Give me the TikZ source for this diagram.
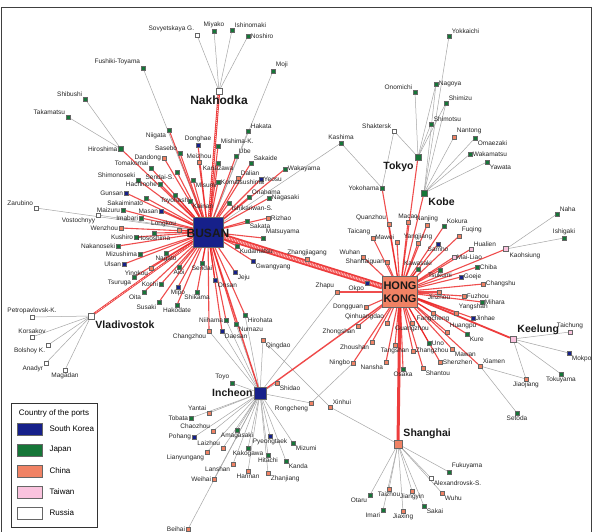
\documentclass[tikz,border=0pt]{standalone}
\usepackage{fontspec}
\setmainfont{Liberation Sans}
\pgfdeclarelayer{back}
\pgfdeclarelayer{bg}
\pgfsetlayers{back,bg,main}
\definecolor{kr}{RGB}{22,32,138}
\definecolor{jp}{RGB}{22,118,56}
\definecolor{cn}{RGB}{240,130,100}
\definecolor{tw}{RGB}{250,195,222}
\definecolor{ru}{RGB}{255,255,255}
\definecolor{edgered}{RGB}{235,28,28}
\tikzset{
  pnode/.style={rectangle, draw=black!60, line width=0.3pt, minimum size=3.6pt, inner sep=0pt},
  lbl/.style={font=\fontsize{6.5}{7}\selectfont, text=black!85, inner sep=0.6pt},
  hubl/.style={font=\bfseries\fontsize{10.5}{11}\selectfont, text=black!90, inner sep=1pt},
  redge/.style={draw=edgered, line width=1.1pt, opacity=0.78},
  gedge/.style={draw=black!35, line width=0.5pt},
  label distance=0.2pt
}
\newcommand\portnode[6]{\node[pnode,fill=#4,label={[lbl]#5:#6}] (#1) at (#2,#3) {};}
\newcommand\hubnode[7]{\node[pnode,fill=#4,minimum size=#7,label={[hubl]#5:#6}] (#1) at (#2,#3) {};}
\begin{document}
\begin{tikzpicture}[x=1pt,y=-1pt]
\useasboundingbox (0,0) rectangle (594,532);
\begin{pgfonlayer}{back}
\fill[white] (0,0) rectangle (594,532);
\draw[black!75, line width=0.9pt] (1,7) rectangle (591,540);
\end{pgfonlayer}

% ---------- hubs ----------
\node[pnode,fill=kr,minimum size=30pt] (busan) at (208,232) {};
\node[font=\bfseries\fontsize{12}{12}\selectfont, text=black!90] at (208,233) {BUSAN};
\node[pnode,fill=cn,minimum width=35pt,minimum height=31pt] (hk) at (400,292) {};
\node[font=\bfseries\fontsize{11}{13}\selectfont, text=black!90, align=center] at (400,292) {HONG\\KONG};
\node[pnode,fill=ru,minimum size=6pt,label={[hubl,font=\bfseries\fontsize{12}{12}\selectfont]south:Nakhodka}] (nkd) at (219,91) {};
\hubnode{vla}{91}{316}{ru}{south east}{Vladivostok}{6pt}
\hubnode{inc}{260}{393}{kr}{west}{Incheon}{12pt}
\hubnode{sgh}{398}{444}{cn}{north east}{Shanghai}{8pt}
\hubnode{kee}{513}{339}{tw}{north east}{Keelung}{6pt}
\hubnode{tky}{418}{157}{jp}{south west}{Tokyo}{6pt}
\hubnode{kob}{424}{193}{jp}{south east}{Kobe}{6pt}
\node[pnode,fill=tw,minimum size=5pt,label={[lbl]south east:Kaohsiung}] (kao) at (506,249) {};
\node[pnode,fill=jp,minimum size=5pt,label={[lbl]west:Hiroshima}] (hir) at (121,149) {};

% ---------- Nakhodka / north ----------
\portnode{sov}{197}{35}{ru}{north west}{Sovyetskaya G.}
\portnode{miy}{214}{31}{jp}{north}{Miyako}
\portnode{ish}{232}{30}{jp}{north east}{Ishinomaki}
\portnode{nos}{248}{36}{jp}{east}{Noshiro}
\portnode{fus}{143}{68}{jp}{north west}{Fushiki-Toyama}
\portnode{moj}{273}{71}{jp}{north east}{Moji}
\portnode{shi}{85}{99}{jp}{north west}{Shibushi}
\portnode{tak}{68}{117}{jp}{north west}{Takamatsu}
\portnode{nii}{169}{130}{jp}{south west}{Niigata}
\portnode{hak}{248}{131}{jp}{north east}{Hakata}
\portnode{don}{198}{145}{kr}{north}{Donghae}
\portnode{mis}{218}{146}{jp}{north east}{Mishima-K.}
\portnode{sas}{180}{153}{jp}{north west}{Sasebo}
\portnode{ube}{236}{156}{jp}{north east}{Ube}
\portnode{dan}{164}{158}{cn}{west}{Dandong}
\portnode{mei}{199}{162}{cn}{north}{Meizhou}
\portnode{sak}{251}{163}{jp}{north east}{Sakaide}
\portnode{tom}{151}{168}{jp}{north west}{Tomakomai}
\portnode{kan}{218}{163}{jp}{south}{Kanazawa}
\portnode{dal}{238}{178}{cn}{north east}{Dalian}
\portnode{wak}{285}{169}{jp}{east}{Wakayama}
\portnode{yeo}{261}{179}{kr}{east}{Yeosu}

% ---------- Busan west ----------
\portnode{sms}{138}{180}{jp}{north west}{Shimonoseki}
\portnode{sen}{177}{172}{jp}{south west}{Sendai-S.}
\portnode{gun}{126}{193}{kr}{west}{Gunsan}
\portnode{hac}{160}{184}{jp}{west}{Hachinohe}
\portnode{sai}{146}{198}{jp}{south west}{Sakaiminato}
\portnode{toy}{175}{195}{jp}{south}{Toyohashi}
\portnode{mai}{123}{210}{jp}{west}{Maizuru}
\portnode{msn}{161}{211}{kr}{west}{Masan}
\portnode{ima}{141}{218}{jp}{west}{Imabari}
\portnode{zar}{36}{208}{ru}{north west}{Zarubino}
\portnode{vos}{98}{215}{ru}{south west}{Vostochnyy}
\portnode{wen}{121}{228}{cn}{west}{Wenzhou}
\portnode{lon}{179}{230}{cn}{north west}{Longkou}
\portnode{kus}{136}{237}{jp}{west}{Kushiro}
\portnode{hos}{154}{233}{jp}{south}{Hososhima}
\portnode{nak}{118}{246}{jp}{west}{Nakanoseki}
\portnode{miz}{140}{254}{jp}{west}{Mizushima}
\portnode{nag}{166}{253}{jp}{south}{Nagato}
\portnode{uls}{124}{264}{kr}{west}{Ulsan}
\portnode{yin}{151}{268}{cn}{south west}{Yingkou}
\portnode{aio}{179}{267}{jp}{south}{Aioi}
\portnode{tsu}{134}{277}{jp}{south west}{Tsuruga}
\portnode{koc}{161}{284}{jp}{west}{Kochi}
\portnode{mip}{178}{287}{kr}{south}{Mipo}
\portnode{oit}{144}{292}{jp}{south west}{Oita}
\portnode{shk}{197}{292}{jp}{south}{Shikama}
\portnode{sus}{159}{302}{jp}{south west}{Susaki}
\portnode{hkd}{177}{305}{jp}{south}{Hakodate}

% ---------- Russia west ----------
\portnode{pet}{32}{317}{ru}{north}{Petropavlovsk-K.}
\portnode{kor}{32}{337}{ru}{north}{Korsakov}
\portnode{bol}{48}{345}{ru}{south west}{Bolshoy K.}
\portnode{ana}{46}{363}{ru}{south west}{Anadyr}
\portnode{mag}{65}{370}{ru}{south}{Magadan}

% ---------- Busan east ----------
\portnode{msm}{193}{180}{jp}{south east}{Misumi}
\portnode{kom}{218}{182}{jp}{east}{Komatsushima}
\portnode{ona}{249}{197}{jp}{north east}{Onahama}
\portnode{nas}{269}{198}{jp}{east}{Nagasaki}
\portnode{isk}{229}{203}{jp}{south east}{Ishikariwan-S.}
\portnode{kai}{190}{201}{jp}{south east}{Kainan}
\portnode{riz}{268}{218}{cn}{east}{Rizhao}
\portnode{skt}{247}{221}{jp}{south east}{Sakata}
\portnode{mat}{263}{238}{jp}{north east}{Matsuyama}
\portnode{kud}{237}{246}{jp}{south east}{Kudamatsu}
\portnode{gwa}{253}{261}{kr}{south east}{Gwangyang}
\portnode{jej}{235}{272}{kr}{south east}{Jeju}
\portnode{sed}{202}{263}{jp}{south}{Sendai}
\portnode{ons}{215}{280}{kr}{south east}{Onsan}

% ---------- Incheon ----------
\portnode{nih}{226}{320}{jp}{west}{Niihama}
\portnode{hih}{245}{315}{jp}{south east}{Hirohata}
\portnode{num}{236}{324}{jp}{south east}{Numazu}
\portnode{dae}{222}{331}{kr}{south east}{Daesan}
\portnode{chz}{209}{331}{cn}{south west}{Changzhou}
\portnode{qin}{263}{340}{cn}{south east}{Qingdao}
\portnode{toyo}{232}{383}{jp}{north west}{Toyo}
\portnode{shd}{277}{383}{cn}{south east}{Shidao}
\portnode{ron}{311}{403}{cn}{south west}{Rongcheng}
\portnode{xin}{330}{407}{cn}{north east}{Xinhui}
\portnode{yan}{209}{413}{cn}{north west}{Yantai}
\portnode{tob}{191}{418}{jp}{west}{Tobata}
\portnode{cha}{213}{431}{cn}{north west}{Chaozhou}
\portnode{ama}{237}{430}{jp}{south}{Amagasaki}
\portnode{poh}{194}{437}{kr}{west}{Pohang}
\portnode{lai}{223}{448}{cn}{north west}{Laizhou}
\portnode{pye}{270}{436}{kr}{south}{Pyeongtaek}
\portnode{izu}{293}{443}{jp}{south east}{Mizumi}
\portnode{kak}{248}{448}{jp}{south}{Kakogawa}
\portnode{lia}{207}{452}{cn}{south west}{Lianyungang}
\portnode{hit}{268}{455}{jp}{south}{Hitachi}
\portnode{kda}{286}{461}{jp}{south east}{Kanda}
\portnode{lan}{233}{464}{cn}{south west}{Lanshan}
\portnode{han}{248}{471}{cn}{south}{Hannan}
\portnode{zha}{268}{473}{cn}{south east}{Zhanjiang}
\portnode{wei}{214}{479}{cn}{west}{Weihai}
\portnode{bei}{188}{529}{cn}{west}{Beihai}

% ---------- top right ----------
\portnode{yok}{449}{36}{jp}{north east}{Yokkaichi}
\portnode{ngy}{436}{84}{jp}{east}{Nagoya}
\portnode{ono}{415}{92}{jp}{north west}{Onomichi}
\portnode{shm}{446}{103}{jp}{north east}{Shimizu}
\portnode{sht}{431}{124}{jp}{north east}{Shimotsu}
\portnode{skk}{394}{131}{ru}{north west}{Shaktersk}
\portnode{kas}{341}{143}{jp}{north}{Kashima}
\portnode{nat}{454}{137}{cn}{north east}{Nantong}
\portnode{oma}{475}{138}{jp}{south east}{Omaezaki}
\portnode{wkm}{470}{154}{jp}{east}{Wakamatsu}
\portnode{yaw}{487}{162}{jp}{south east}{Yawata}
\portnode{ykh}{382}{188}{jp}{west}{Yokohama}
\portnode{nah}{557}{214}{jp}{north east}{Naha}
\portnode{isg}{564}{238}{jp}{north}{Ishigaki}

% ---------- Hong Kong north ----------
\portnode{qua}{389}{224}{cn}{north west}{Quanzhou}
\portnode{mac}{408}{222}{cn}{north}{Macao}
\portnode{nnj}{427}{225}{cn}{north}{Nanjing}
\portnode{kok}{444}{226}{jp}{north east}{Kokura}
\portnode{fuq}{459}{236}{cn}{north east}{Fuqing}
\portnode{tcg}{373}{238}{cn}{north west}{Taicang}
\portnode{mwe}{397}{242}{cn}{north west}{Mawei}
\portnode{yjg}{418}{243}{cn}{north}{Yangjiang}
\portnode{sam}{438}{244}{kr}{south}{Samho}
\portnode{hul}{471}{249}{tw}{north east}{Hualien}
\portnode{mal}{454}{257}{tw}{east}{Mai-Liao}
\portnode{zjg}{307}{259}{cn}{north}{Zhangjiagang}
\portnode{wuh}{363}{257}{cn}{north west}{Wuhan}
\portnode{shg}{387}{262}{cn}{west}{Shanhaiguan}
\portnode{kaw}{418}{269}{jp}{north}{Kawasaki}
\portnode{tsk}{440}{270}{jp}{south}{Tsukumi}
\portnode{chi}{477}{267}{jp}{east}{Chiba}
\portnode{goe}{461}{277}{kr}{east}{Goeje}
\portnode{chs}{483}{284}{cn}{east}{Changshu}
\portnode{jnz}{439}{292}{cn}{south}{Jinzhou}
\portnode{fuz}{464}{296}{cn}{east}{Fuzhou}
\portnode{mih}{482}{302}{jp}{east}{Mihara}
\portnode{ysh}{456}{313}{cn}{north east}{Yangshan}
\portnode{jnh}{473}{318}{kr}{east}{Jinhae}
\portnode{fan}{433}{313}{cn}{south}{Fangcheng}
\portnode{dgg}{366}{307}{cn}{west}{Dongguan}
\portnode{qhd}{387}{323}{cn}{north west}{Qinhuangdao}
\portnode{zhp}{337}{292}{cn}{north west}{Zhapu}
\portnode{okp}{367}{283}{kr}{south west}{Okpo}

% ---------- Hong Kong south ----------
\portnode{zgs}{358}{326}{cn}{south west}{Zhongshan}
\portnode{zhs}{372}{342}{cn}{south west}{Zhoushan}
\portnode{tan}{395}{345}{cn}{south}{Tangshan}
\portnode{nin}{353}{363}{cn}{west}{Ningbo}
\portnode{nan}{386}{362}{cn}{south west}{Nansha}
\portnode{osa}{403}{369}{jp}{south}{Osaka}
\portnode{sha}{423}{368}{cn}{south east}{Shantou}
\portnode{shz}{440}{362}{cn}{east}{Shenzhen}
\portnode{zhz}{413}{351}{cn}{east}{Zhangzhou}
\portnode{maw}{452}{349}{cn}{south east}{Mawan}
\portnode{uno}{429}{343}{jp}{east}{Uno}
\portnode{gua}{412}{323}{cn}{south}{Guangzhou}
\portnode{hua}{447}{332}{cn}{north east}{Huangpu}
\portnode{kur}{467}{334}{jp}{south east}{Kure}
\portnode{xia}{480}{366}{cn}{north east}{Xiamen}
\portnode{tai}{570}{332}{tw}{north}{Taichung}
\portnode{mok}{569}{353}{kr}{south east}{Mokpo}
\portnode{tok}{561}{374}{jp}{south}{Tokuyama}
\portnode{jia}{526}{379}{cn}{south}{Jiaojiang}
\portnode{set}{517}{413}{jp}{south}{Setoda}

% ---------- Shanghai ----------
\portnode{fuk}{449}{472}{jp}{north east}{Fukuyama}
\portnode{ale}{431}{478}{ru}{south east}{Alexandrovsk-S.}
\portnode{wuu}{442}{493}{cn}{south east}{Wuhu}
\portnode{jgy}{412}{491}{cn}{south}{Jiangyin}
\portnode{tzh}{389}{489}{cn}{south}{Taizhou}
\portnode{ota}{370}{495}{jp}{south west}{Otaru}
\portnode{ska}{424}{506}{jp}{south east}{Sakai}
\portnode{jxg}{403}{511}{cn}{south}{Jiaxing}
\portnode{imr}{383}{510}{jp}{south west}{Imari}

% ---------- legend ----------
\node[draw=black!80, fill=white, line width=0.8pt, minimum width=86pt, minimum height=124pt, anchor=north west] (legend) at (11,403) {};
\node[font=\fontsize{8}{9}\selectfont] (legtitle) at (54,413) {Country of the ports};
\foreach \c/\t [count=\i] in {kr/South Korea,jp/Japan,cn/China,tw/Taiwan,ru/Russia}{
  \node[draw=black!60, fill=\c, minimum width=25pt, minimum height=12.5pt, inner sep=0pt] (sw\i) at (29.5,408+21*\i) {};
  \node[font=\fontsize{8}{9}\selectfont, anchor=west] (lt\i) at (46,408+21*\i) {\t};
}

% ---------- edges ----------
\begin{pgfonlayer}{bg}
\foreach \n in {sov,miy,ish,nos} \draw[gedge] (nkd) -- (\n);
\foreach \n in {pet,kor,bol,ana,mag} \draw[gedge] (vla) -- (\n);
\foreach \n in {shi,tak} \draw[gedge] (hir) -- (\n);
\foreach \n in {fus,moj,hak,zar,vos,kas} \draw[gedge] (busan) -- (\n);
\foreach \n in {nih,hih,num,dae,chz,qin,toyo,shd,ron,yan,tob,cha,ama,poh,lai,pye,izu,kak,lia,hit,kda,lan,han,zha,wei,bei,zhp}
  \draw[gedge] (inc) -- (\n);
\foreach \n in {ono,ngy,shm,sht,skk} \draw[gedge] (tky) -- (\n);
\foreach \n in {yok,nat,oma,wkm,yaw,ngy,shm} \draw[gedge] (kob) -- (\n);
\foreach \n in {kas,skk} \draw[gedge] (ykh) -- (\n);
\foreach \n in {nah,isg} \draw[gedge] (kao) -- (\n);
\foreach \n in {tai,mok,tok,jia} \draw[gedge] (kee) -- (\n);
\foreach \n in {set,jia} \draw[gedge] (xia) -- (\n);
\foreach \n in {fuk,ale,wuu,jgy,tzh,ota,ska,jxg,imr,xin} \draw[gedge] (sgh) -- (\n);
\draw[gedge] (xin) -- (qin);
\draw[gedge] (ron) -- (nin);
\foreach \n in {nii,don,mis,sas,ube,dan,mei,sak,tom,kan,dal,wak,yeo,sms,sen,gun,hac,sai,toy,mai,msn,ima,wen,lon,kus,hos,nak,miz,nag,uls,yin,aio,tsu,koc,mip,oit,shk,sus,hkd,msm,kom,ona,nas,isk,kai,riz,skt,mat,kud,gwa,jej,sed,ons,nih,hih,num,dae,chz,hir}
  \draw[redge] (busan) -- (\n);
\foreach \n in {qua,mac,nnj,kok,fuq,tcg,mwe,yjg,sam,hul,mal,wuh,shg,kaw,tsk,chi,goe,chs,jnz,fuz,mih,ysh,jnh,fan,dgg,qhd,zgs,zhp,okp,zhs,tan,nan,osa,sha,shz,zhz,maw,uno,gua,hua,kur,xia,tky,kob,ykh,kao,nin}
  \draw[redge] (hk) -- (\n);
\draw[edgered, line width=6pt, opacity=0.85] (busan) -- (hk);
\draw[red!25, line width=2.5pt, dash pattern=on 0.8pt off 0.8pt] (busan) -- (hk);
\draw[edgered, line width=2.4pt, opacity=0.85] (busan) -- (nkd);
\draw[white, line width=0.5pt, dash pattern=on 1pt off 1pt] (busan) -- (nkd);
\draw[edgered, line width=2.2pt, opacity=0.85] (busan) -- (vla);
\draw[white, line width=0.5pt, dash pattern=on 1pt off 1pt] (busan) -- (vla);
\draw[edgered, line width=3pt, opacity=0.85] (hk) -- (sgh);
\draw[edgered, line width=1.8pt, opacity=0.85] (hk) -- (kee);
\draw[edgered, line width=1.4pt, opacity=0.8] (hk) -- (inc);
\draw[edgered, line width=1.4pt, opacity=0.8] (busan) -- (inc);
\end{pgfonlayer}
\end{tikzpicture}
\end{document}
